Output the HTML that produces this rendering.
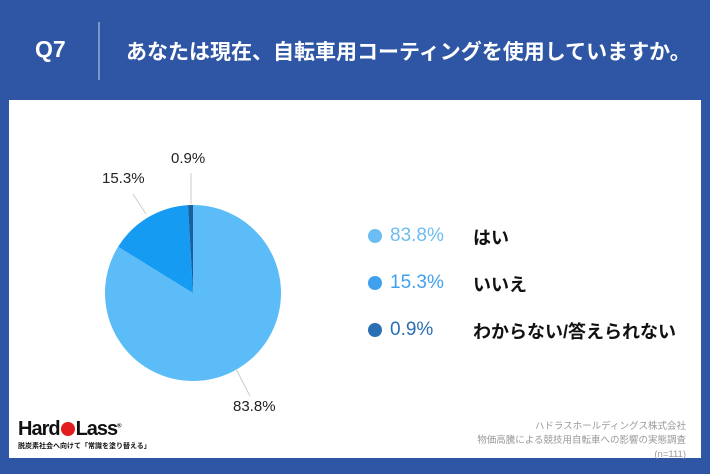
<!DOCTYPE html>
<html><head><meta charset="utf-8"><style>
body{margin:0;width:710px;height:474px;background:#2f56a5;position:relative;overflow:hidden;font-family:"Liberation Sans","Noto Sans CJK JP",sans-serif}
.t{position:absolute;white-space:nowrap}
.panel{position:absolute;left:9px;top:100px;width:692px;height:358px;background:#fff}
</style></head><body>
<div class="t" style="left:35px;top:36px;color:#fff;font-size:23px;font-weight:bold">Q7</div>
<div style="position:absolute;left:98px;top:22px;width:2px;height:58px;background:#7d96c9"></div>
<div class="t" style="left:126px;top:36px;color:#fff;font-size:21px;font-weight:bold">あなたは現在、自転車用コーティングを使用していますか。</div>
<div class="panel"></div>
<svg style="position:absolute;left:0;top:0" width="710" height="474">
<path d="M193,293 L193,205 A88,88 0 1 1 118.1,246.8 Z" fill="#5bbcf8"/>
<path d="M193,293 L118.1,246.8 A88,88 0 0 1 188,205.1 Z" fill="#169bf2"/>
<path d="M193,293 L188,205.1 A88,88 0 0 1 193,205 Z" fill="#1a5f9e"/>
<line x1="191" y1="204" x2="191" y2="173" stroke="#ccc"/>
<line x1="146" y1="214" x2="133" y2="194" stroke="#ccc"/>
<line x1="236" y1="369" x2="250" y2="396" stroke="#ccc"/>
<circle cx="375" cy="236" r="7" fill="#6cbdf3"/>
<circle cx="375" cy="283" r="7" fill="#3fa0ef"/>
<circle cx="375" cy="330" r="7" fill="#2a6fb4"/>
</svg>
<div class="t" style="left:171px;top:150px;font-size:15px;color:#222">0.9%</div>
<div class="t" style="left:102px;top:170px;font-size:15px;color:#222">15.3%</div>
<div class="t" style="left:233px;top:398px;font-size:15px;color:#222">83.8%</div>
<div class="t" style="left:390px;top:225px;font-size:19px;color:#6cbdf3">83.8%</div>
<div class="t" style="left:390px;top:272px;font-size:19px;color:#3fa0ef">15.3%</div>
<div class="t" style="left:390px;top:319px;font-size:19px;color:#2a6fb4">0.9%</div>
<div class="t" style="left:473px;top:224px;font-size:18px;font-weight:bold;color:#111">はい</div>
<div class="t" style="left:473px;top:271px;font-size:18px;font-weight:bold;color:#111">いいえ</div>
<div class="t" style="left:473px;top:318px;font-size:18px;font-weight:bold;color:#111">わからない/答えられない</div>
<div class="t" style="left:18px;top:418px;font-size:20px;font-weight:bold;color:#111;letter-spacing:-1px">Hard<span style="display:inline-block;width:14px;height:14px;border-radius:50%;background:#e21d1d;vertical-align:-1px;margin:0 1px"></span>Lass<sup style="font-size:6px">®</sup></div>
<div class="t" style="left:18px;top:441px;font-size:7px;font-weight:bold;color:#111">脱炭素社会へ向けて「常識を塗り替える」</div>
<div class="t" style="right:24px;top:420px;font-size:9.5px;color:#999;text-align:right;line-height:14px">ハドラスホールディングス株式会社<br>物価高騰による競技用自転車への影響の実態調査<br>(n=111)</div>
</body></html>
